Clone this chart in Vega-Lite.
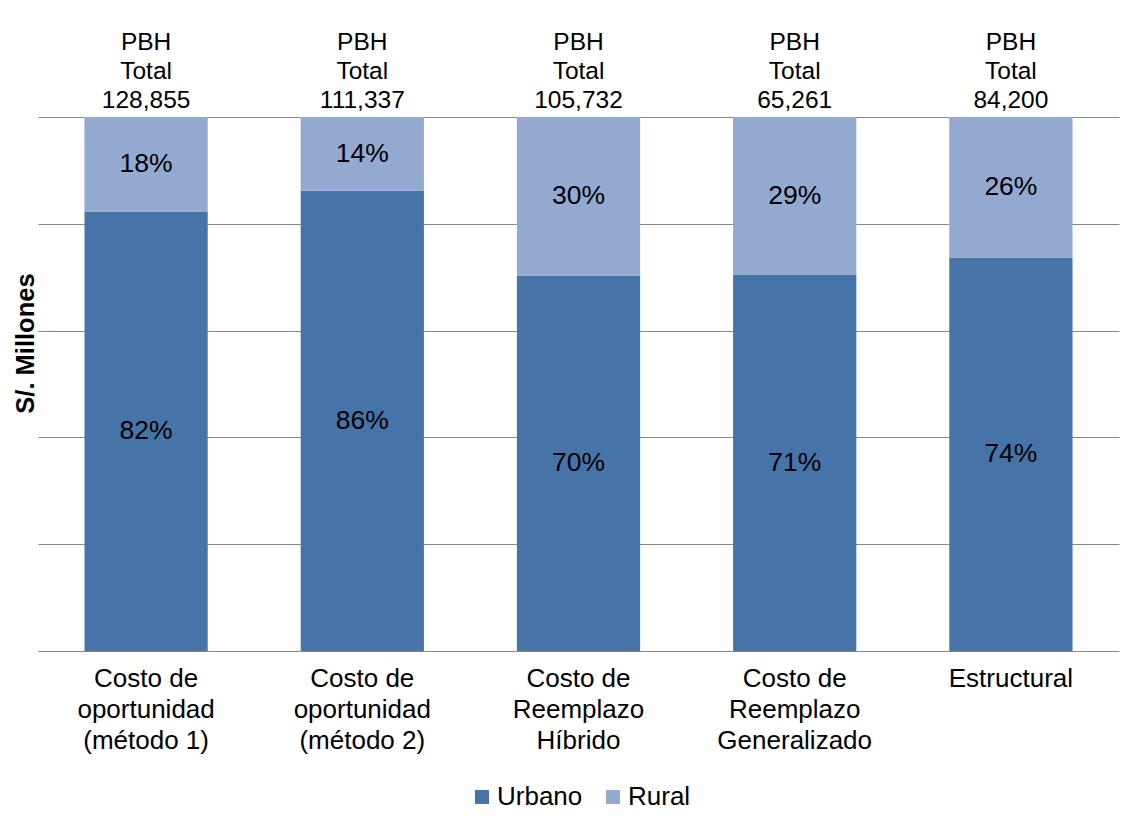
{
  "$schema": "https://vega.github.io/schema/vega-lite/v6.json",
  "width": 1081,
  "height": 534,
  "autosize": {"type": "none"},
  "padding": {"left": 38, "top": 117, "right": 9, "bottom": 172},
  "background": "white",
  "config": {
    "font": "Liberation Sans",
    "view": {"stroke": null},
    "axisY": {
      "titleFontSize": 25.5,
      "titleFontWeight": "bold",
      "titleColor": "#000000",
      "titleAngle": 270,
      "titleAlign": "center",
      "titleBaseline": "middle",
      "titleX": -13,
      "titleY": 226,
      "labels": false,
      "ticks": false,
      "domain": false,
      "grid": true,
      "gridColor": "#888888",
      "gridWidth": 1.2,
      "tickCount": 5
    }
  },
  "data": {
    "values": [
      {"metodo": "Costo de|oportunidad|(método 1)", "zona": "Urbano", "orden": 1, "valor": 106048, "etiqueta": "82%", "total": 128855},
      {"metodo": "Costo de|oportunidad|(método 1)", "zona": "Rural", "orden": 2, "valor": 22807, "etiqueta": "18%", "total": 128855},
      {"metodo": "Costo de|oportunidad|(método 2)", "zona": "Urbano", "orden": 1, "valor": 95972, "etiqueta": "86%", "total": 111337},
      {"metodo": "Costo de|oportunidad|(método 2)", "zona": "Rural", "orden": 2, "valor": 15365, "etiqueta": "14%", "total": 111337},
      {"metodo": "Costo de|Reemplazo|Híbrido", "zona": "Urbano", "orden": 1, "valor": 74330, "etiqueta": "70%", "total": 105732},
      {"metodo": "Costo de|Reemplazo|Híbrido", "zona": "Rural", "orden": 2, "valor": 31402, "etiqueta": "30%", "total": 105732},
      {"metodo": "Costo de|Reemplazo|Generalizado", "zona": "Urbano", "orden": 1, "valor": 46009, "etiqueta": "71%", "total": 65261},
      {"metodo": "Costo de|Reemplazo|Generalizado", "zona": "Rural", "orden": 2, "valor": 19252, "etiqueta": "29%", "total": 65261},
      {"metodo": "Estructural", "zona": "Urbano", "orden": 1, "valor": 62013, "etiqueta": "74%", "total": 84200},
      {"metodo": "Estructural", "zona": "Rural", "orden": 2, "valor": 22187, "etiqueta": "26%", "total": 84200}
    ]
  },
  "encoding": {
    "x": {
      "field": "metodo",
      "type": "nominal",
      "sort": null,
      "scale": {"paddingInner": 0.43, "paddingOuter": 0.215},
      "axis": {
        "title": null,
        "domain": false,
        "ticks": false,
        "labelAngle": 0,
        "labelFontSize": 26,
        "labelColor": "#000000",
        "labelExpr": "split(datum.value, '|')",
        "labelLineHeight": 31,
        "labelPadding": 14,
        "labelBaseline": "top",
        "labelLimit": 400
      }
    }
  },
  "layer": [
    {
      "mark": {"type": "bar"},
      "encoding": {
        "y": {
          "field": "valor",
          "type": "quantitative",
          "stack": "normalize",
          "scale": {"domain": [0, 1]},
          "title": "S/. Millones"
        },
        "color": {
          "field": "zona",
          "type": "nominal",
          "scale": {"domain": ["Urbano", "Rural"], "range": ["#4674A8", "#94A9CF"]},
          "legend": {
            "orient": "none",
            "legendX": 431,
            "legendY": 667,
            "direction": "horizontal",
            "title": null,
            "symbolType": "square",
            "symbolSize": 196,
            "symbolStrokeWidth": 0,
            "symbolOpacity": 1,
            "labelFontSize": 26,
            "labelColor": "#000000",
            "labelOffset": 2,
            "columnPadding": 17,
            "padding": 0
          }
        },
        "order": {"field": "orden", "type": "quantitative"}
      }
    },
    {
      "mark": {"type": "text", "fontSize": 26.5, "baseline": "middle", "color": "#000000"},
      "encoding": {
        "y": {"field": "valor", "type": "quantitative", "stack": "normalize", "bandPosition": 0.5, "title": "S/. Millones"},
        "detail": {"field": "zona"},
        "order": {"field": "orden", "type": "quantitative"},
        "text": {"field": "etiqueta"}
      }
    },
    {
      "transform": [{"filter": "datum.zona == 'Rural'"}],
      "mark": {"type": "text", "fontSize": 24.5, "baseline": "alphabetic", "dy": -67, "color": "#000000"},
      "encoding": {
        "y": {"datum": 1, "type": "quantitative", "title": "S/. Millones"},
        "text": {"value": "PBH"}
      }
    },
    {
      "transform": [{"filter": "datum.zona == 'Rural'"}],
      "mark": {"type": "text", "fontSize": 24.5, "baseline": "alphabetic", "dy": -38, "color": "#000000"},
      "encoding": {
        "y": {"datum": 1, "type": "quantitative", "title": "S/. Millones"},
        "text": {"value": "Total"}
      }
    },
    {
      "transform": [{"filter": "datum.zona == 'Rural'"}],
      "mark": {"type": "text", "fontSize": 24.5, "baseline": "alphabetic", "dy": -9, "color": "#000000"},
      "encoding": {
        "y": {"datum": 1, "type": "quantitative", "title": "S/. Millones"},
        "text": {"field": "total", "type": "quantitative", "format": ","}
      }
    }
  ]
}
